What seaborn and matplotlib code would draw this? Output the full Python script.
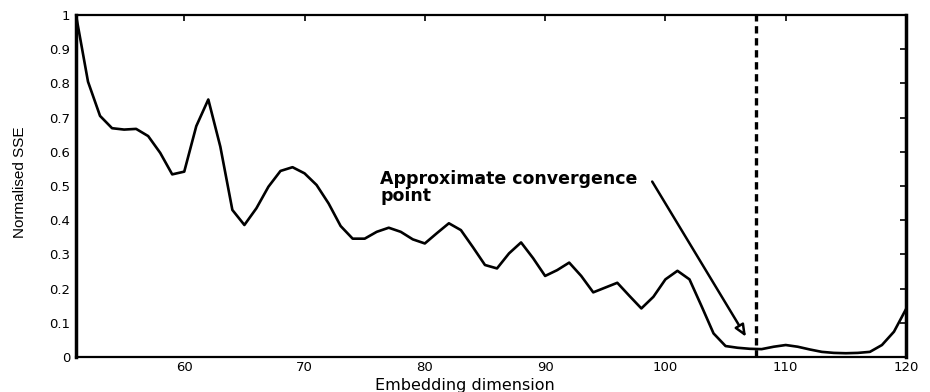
import numpy as np
import pandas as pd
import matplotlib
matplotlib.use("Agg")
import matplotlib.pyplot as plt
from matplotlib import font_manager
import seaborn as sns

# Embedding dimension vs. normalised sum of squared errors
dimension = list(range(51, 121))
sse = [
    1.000, 0.805, 0.705, 0.669, 0.665, 0.667, 0.646, 0.597, 0.534, 0.542,
    0.675, 0.753, 0.615, 0.430, 0.386, 0.435, 0.498, 0.544, 0.555, 0.537,
    0.503, 0.449, 0.383, 0.346, 0.346, 0.366, 0.378, 0.366, 0.344, 0.332,
    0.362, 0.391, 0.371, 0.321, 0.269, 0.259, 0.303, 0.335, 0.289, 0.237,
    0.254, 0.276, 0.237, 0.189, 0.203, 0.217, 0.179, 0.142, 0.176, 0.227,
    0.252, 0.227, 0.149, 0.069, 0.032, 0.027, 0.024, 0.023, 0.030, 0.035,
    0.030, 0.022, 0.015, 0.012, 0.011, 0.012, 0.015, 0.035, 0.074, 0.140,
]
convergence_dim = 107.5
x_ticks = [60, 70, 80, 90, 100, 110, 120]
y_ticks = [0, 0.1, 0.2, 0.3, 0.4, 0.5, 0.6, 0.7, 0.8, 0.9, 1]
y_tick_labels = ["0", "0.1", "0.2", "0.3", "0.4", "0.5", "0.6", "0.7", "0.8", "0.9", "1"]
annotation = "Approximate convergence\npoint"
arrow_tail = (98.9, 0.513)
arrow_head = (106.7, 0.059)

sns.set_style("white")
plt.rcParams["font.family"] = ["DejaVu Sans"]
plt.rcParams["text.color"] = "black"
plt.rcParams["axes.labelcolor"] = "black"
plt.rcParams["xtick.color"] = "black"
plt.rcParams["ytick.color"] = "black"

installed = {f.name for f in font_manager.fontManager.ttflist}
narrow = "Liberation Sans Narrow" if "Liberation Sans Narrow" in installed else "Liberation Sans"

df = pd.DataFrame({"dimension": dimension, "sse": sse})

fig = plt.figure(figsize=(9.3, 3.92), dpi=100)
ax = fig.add_axes([0.0817, 0.0893, 0.8925, 0.8724])

sns.lineplot(data=df, x="dimension", y="sse", ax=ax, color="black",
             linewidth=1.9, zorder=3)

ax.axvline(convergence_dim, color="black", linewidth=2.4,
           linestyle=(0, (2.2, 1.4)), zorder=2)

ax.text(76.3, 0.548, annotation, ha="left", va="top", fontsize=12.5,
        fontweight="bold", linespacing=0.95, color="black")
ax.annotate("", xy=arrow_head, xytext=arrow_tail,
            arrowprops=dict(arrowstyle="-|>,head_length=0.7,head_width=0.3",
                            fc="white", ec="black", lw=1.8,
                            shrinkA=0, shrinkB=0))

ax.set_xlim(51, 120)
ax.set_ylim(0, 1)
ax.set_xticks(x_ticks)
ax.set_xticklabels([str(t) for t in x_ticks])
ax.set_yticks(y_ticks)
ax.set_yticklabels(y_tick_labels)

ax.tick_params(direction="in", length=4, width=1.2, colors="black",
               top=True, right=True, labelsize=9.5, pad=4)
ax.tick_params(axis="x", pad=3)
for side, lw in {"left": 2.5, "right": 2.5, "top": 1.6, "bottom": 1.6}.items():
    ax.spines[side].set_visible(True)
    ax.spines[side].set_color("black")
    ax.spines[side].set_linewidth(lw)

ax.set_xlabel("Embedding dimension", fontsize=11.5)
ax.xaxis.set_label_coords(0.468, -0.06)
ax.set_ylabel("Normalised SSE", fontsize=11, family=[narrow])
ax.yaxis.set_label_coords(-0.059, 0.51)

fig.savefig("out.png", dpi=100, facecolor="white")
